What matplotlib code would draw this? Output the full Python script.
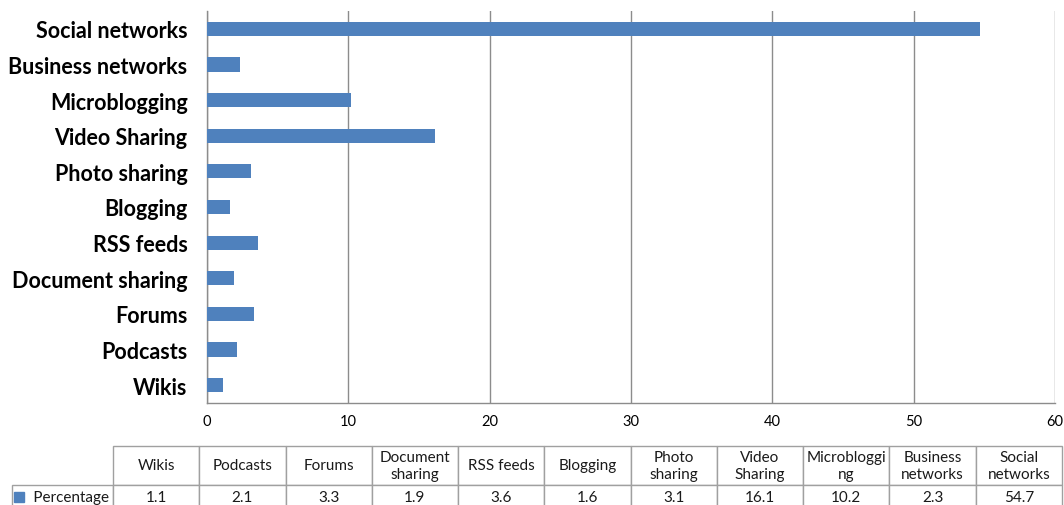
import matplotlib
matplotlib.use('Agg')
import matplotlib.pyplot as plt
from matplotlib.patches import Rectangle
from matplotlib.table import Table

plt.rcParams['font.family'] = ['Lato', 'DejaVu Sans']

# share of use by media type, bottom to top
categories = ['Wikis', 'Podcasts', 'Forums', 'Document sharing', 'RSS feeds',
              'Blogging', 'Photo sharing', 'Video Sharing', 'Microblogging',
              'Business networks', 'Social networks']
percentage = [1.1, 2.1, 3.3, 1.9, 3.6, 1.6, 3.1, 16.1, 10.2, 2.3, 54.7]
# headers as they appear in the table under the chart
table_headers = ['Wikis', 'Podcasts', 'Forums', 'Document\nsharing', 'RSS feeds',
                 'Blogging', 'Photo\nsharing', 'Video\nSharing', 'Microbloggi\nng',
                 'Business\nnetworks', 'Social\nnetworks']
xticks = [0, 10, 20, 30, 40, 50, 60]

bar_color = '#4F81BD'
grid_color = '#8C8C8C'
W, H = 1064, 506

fig = plt.figure(figsize=(W / 100, H / 100), dpi=100)
ax = fig.add_axes([207 / W, 1 - 404 / H, (1055 - 207) / W, (404 - 12) / H])

y = range(len(categories))
ax.barh(y, percentage, height=0.4, color=bar_color, zorder=3)
ax.set_ylim(-0.5, len(categories) - 0.5)
ax.set_xlim(0, 60)
ax.set_xticks(xticks)
ax.set_yticks(list(y))
ax.set_yticklabels(categories, fontsize=15.5, fontweight='bold')
ax.tick_params(axis='y', length=0, pad=14)
ax.tick_params(axis='x', length=0, pad=8, labelsize=10.5)
ax.xaxis.grid(True, color=grid_color, linewidth=1)
for side in ['top', 'right']:
    ax.spines[side].set_visible(False)
for side in ['left', 'bottom']:
    ax.spines[side].set_color(grid_color)
    ax.spines[side].set_linewidth(1)

# data table under the chart
tax = fig.add_axes([0, 0, 1, 1])
tax.axis('off')
col_w = (1062 - 113) / W / len(categories)
head_h, row_h = 39 / H, 24 / H
tbl = Table(tax, bbox=[113 / W, 1 - 510 / H, (1062 - 113) / W, 63 / H])
for c, label in enumerate(table_headers):
    tbl.add_cell(0, c, col_w, head_h, text=label, loc='center')
    tbl.add_cell(1, c, col_w, row_h, text='%.1f' % percentage[c], loc='center')
tbl.add_cell(1, -1, 101 / W, row_h, text='     Percentage', loc='left')
tbl.auto_set_font_size(False)
for (r, c), cell in tbl.get_celld().items():
    cell.set_edgecolor('#A0A0A0')
    cell.set_linewidth(1)
    cell.set_text_props(fontsize=11, color='#1A1A1A')
    if c == -1:
        cell.PAD = 0.02
tax.add_table(tbl)
# legend key for the series row
tax.add_patch(Rectangle((14 / W, 1 - 503 / H), 10 / W, 10 / H,
                        color=bar_color, transform=tax.transAxes, zorder=5))

fig.savefig('out.png', dpi=100)
